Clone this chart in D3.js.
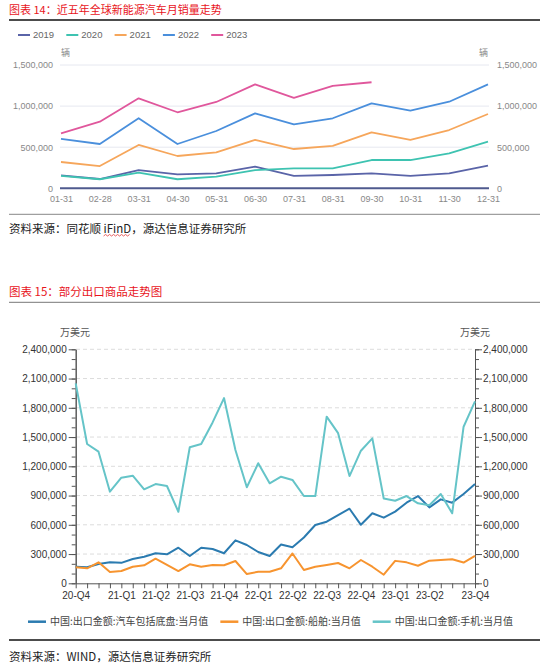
<!DOCTYPE html>
<html>
<head>
<meta charset="utf-8">
<script src="https://cdn.jsdelivr.net/npm/d3@7"></script>
<style>
  body { margin: 0; background: #fff; }
</style>
</head>
<body>
<div id="page"></div>
<script>
var svgWidth = 550;
var svgHeight = 666;
var cjkFont = "'Noto Sans CJK SC', 'Noto Sans', sans-serif";
var numFont = "'Liberation Sans', Arial, sans-serif";

// chart 14: monthly global NEV sales
var months14 = ["01-31", "02-28", "03-31", "04-30", "05-31", "06-30",
  "07-31", "08-31", "09-30", "10-31", "11-30", "12-31"];
var years14 = ["2019", "2020", "2021", "2022", "2023"];
var sales2019 = [158000, 113000, 222000, 170000, 182000, 263000, 150000, 162000, 182000, 150000, 182000, 275000];
var sales2020 = [150000, 110000, 190000, 110000, 141000, 222000, 243000, 243000, 344000, 344000, 426000, 567000];
var sales2021 = [320000, 271000, 527000, 393000, 438000, 588000, 478000, 515000, 681000, 588000, 709000, 904000];
var sales2022 = [600000, 539000, 852000, 539000, 697000, 912000, 778000, 852000, 1034000, 945000, 1053000, 1265000];
var sales2023 = [669000, 810000, 1095000, 925000, 1050000, 1265000, 1100000, 1245000, 1290000];
var ticks14 = [0, 500000, 1000000, 1500000];

// chart 15: selected export goods
var months15 = ["2020-11", "2020-12", "2021-01", "2021-02", "2021-03", "2021-04",
  "2021-05", "2021-06", "2021-07", "2021-08", "2021-09", "2021-10",
  "2021-11", "2021-12", "2022-01", "2022-02", "2022-03", "2022-04",
  "2022-05", "2022-06", "2022-07", "2022-08", "2022-09", "2022-10",
  "2022-11", "2022-12", "2023-01", "2023-02", "2023-03", "2023-04",
  "2023-05", "2023-06", "2023-07", "2023-08", "2023-09", "2023-10"];
var quarterTicks = ["2020-11", "2021-03", "2021-06", "2021-09", "2021-12", "2022-03",
  "2022-06", "2022-09", "2022-12", "2023-03", "2023-06", "2023-10"];
var quarterLabels = ["20-Q4", "21-Q1", "21-Q2", "21-Q3", "21-Q4", "22-Q1",
  "22-Q2", "22-Q3", "22-Q4", "23-Q1", "23-Q2", "23-Q4"];
var seriesNames15 = ["中国:出口金额:汽车包括底盘:当月值", "中国:出口金额:船舶:当月值", "中国:出口金额:手机:当月值"];
var carExports = [170000, 164000, 198000, 215000, 210000, 249000, 273000, 308000, 297000, 365000, 280000, 365000,
  352000, 308000, 441000, 393000, 321000, 280000, 398000, 369000, 470000, 598000, 632000, 700000,
  765000, 600000, 718000, 673000, 735000, 827000, 895000, 779000, 861000, 827000, 916000, 1018000];
var shipExports = [164000, 154000, 215000, 116000, 126000, 170000, 185000, 252000, 188000, 126000, 195000, 170000,
  188000, 185000, 229000, 95000, 119000, 119000, 154000, 306000, 136000, 170000, 188000, 208000,
  154000, 239000, 170000, 88000, 230000, 215000, 180000, 232000, 239000, 246000, 213000, 282000];
var phoneExports = [2050000, 1429000, 1350000, 940000, 1083000, 1104000, 964000, 1018000, 998000, 734000, 1395000, 1429000,
  1650000, 1900000, 1367000, 985000, 1231000, 1026000, 1093000, 1060000, 895000, 895000, 1709000, 1540000,
  1100000, 1360000, 1487000, 870000, 847000, 895000, 820000, 800000, 916000, 718000, 1606000, 1865000];
var ticks15 = [0, 300000, 600000, 900000, 1200000, 1500000, 1800000, 2100000, 2400000];
var minorTicks15 = d3.range(0, 2400001, 100000);

var svg = d3.select("#page")
  .append("svg")
  .attr("width", svgWidth)
  .attr("height", svgHeight);

function addText(x, y, str, size, color, family, anchor) {
  return svg.append("text")
    .attr("x", x)
    .attr("y", y)
    .attr("dy", "0.35em")
    .attr("font-size", size)
    .attr("fill", color)
    .attr("font-family", family)
    .attr("text-anchor", anchor || "start")
    .text(str);
}

function rule(y, color, w) {
  svg.append("line")
    .attr("x1", 9).attr("x2", 540)
    .attr("y1", y).attr("y2", y)
    .attr("stroke", color)
    .attr("stroke-width", w);
}

// ---------- chart 14 ----------
addText(9, 10, "图表 14：近五年全球新能源汽车月销量走势", 11, "#e8141c", cjkFont);
rule(20, "#111", 1.5);

var x14 = d3.scalePoint().domain(months14).range([61, 488]);
var y14 = d3.scaleLinear().domain([0, 1500000]).range([188.3, 65]);
var colors14 = ["#5a64a8", "#3ec3b1", "#f6a65b", "#4a8fdc", "#e0579c"];
var data14 = [sales2019, sales2020, sales2021, sales2022, sales2023];

// legend
years14.forEach(function (yr, i) {
  var lx = 18 + i * 48.3;
  svg.append("line")
    .attr("x1", lx).attr("x2", lx + 12)
    .attr("y1", 35).attr("y2", 35)
    .attr("stroke", colors14[i])
    .attr("stroke-width", 2);
  addText(lx + 15, 35, yr, 9.5, "#666", numFont);
});

addText(61, 52.5, "辆", 9, "#888", cjkFont);
addText(488, 52.5, "辆", 9, "#888", cjkFont, "end");

// grid
svg.append("g")
  .selectAll("line")
  .data(ticks14.slice(1))
  .enter()
  .append("line")
  .attr("x1", 60).attr("x2", 489)
  .attr("y1", (d) => y14(d)).attr("y2", (d) => y14(d))
  .attr("stroke", "#e6e8f0")
  .attr("stroke-width", 1);

var fmt = d3.format(",");

var left14 = svg.append("g")
  .attr("transform", "translate(60,0)")
  .call(d3.axisLeft(y14).tickValues(ticks14).tickFormat(fmt).tickSize(0).tickPadding(7));
var right14 = svg.append("g")
  .attr("transform", "translate(489,0)")
  .call(d3.axisRight(y14).tickValues(ticks14).tickFormat(fmt).tickSize(0).tickPadding(8));
[left14, right14].forEach(function (g) {
  g.select(".domain").remove();
  g.selectAll("text").attr("fill", "#888").attr("font-size", 9).attr("font-family", numFont);
});

var bottom14 = svg.append("g")
  .attr("transform", "translate(0,188.3)")
  .call(d3.axisBottom(x14).tickSize(0).tickPadding(7));
bottom14.select(".domain").remove();
bottom14.selectAll("text").attr("fill", "#888").attr("font-size", 9).attr("font-family", numFont);

svg.append("line")
  .attr("x1", 60).attr("x2", 489)
  .attr("y1", y14(0)).attr("y2", y14(0))
  .attr("stroke", "#4f5a8e")
  .attr("stroke-width", 2);

var line14 = d3.line()
  .x((d, i) => x14(months14[i]))
  .y((d) => y14(d));

data14.forEach(function (arr, i) {
  svg.append("path")
    .datum(arr)
    .attr("d", line14)
    .attr("fill", "none")
    .attr("stroke", colors14[i])
    .attr("stroke-width", 1.8)
    .attr("stroke-linejoin", "round");
});

rule(214.3, "#888", 1);
var src1 = addText(9, 228.5, "资料来源：同花顺 iFinD，源达信息证券研究所", 11.5, "#222", cjkFont);

// red wavy underline under iFinD, as in the source document
var wStart = src1.node().getStartPositionOfChar(9).x;
var wEnd = src1.node().getEndPositionOfChar(13).x;
var wave = d3.path();
wave.moveTo(wStart, 236);
var up = true;
for (var wx = wStart + 2; wx <= wEnd; wx += 2) {
  wave.lineTo(wx, up ? 234.5 : 236);
  up = !up;
}
svg.append("path")
  .attr("d", wave.toString())
  .attr("fill", "none")
  .attr("stroke", "#e23a3a")
  .attr("stroke-width", 0.8);

// ---------- chart 15 ----------
addText(9, 291.5, "图表 15：部分出口商品走势图", 11.5, "#e8141c", cjkFont);
rule(302.3, "#777", 1);

var x15 = d3.scalePoint().domain(months15).range([75.7, 475]);
var y15 = d3.scaleLinear().domain([0, 2400000]).range([583.3, 349.3]);
var colors15 = ["#2b7bb0", "#f7942f", "#65c4c8"];
var data15 = [carExports, shipExports, phoneExports];

addText(60, 332.5, "万美元", 10, "#555", cjkFont);
addText(490, 332.5, "万美元", 10, "#555", cjkFont, "end");

svg.append("g")
  .selectAll("line")
  .data(ticks15.slice(1))
  .enter()
  .append("line")
  .attr("x1", 76).attr("x2", 475)
  .attr("y1", (d) => y15(d)).attr("y2", (d) => y15(d))
  .attr("stroke", "#dcdcdc")
  .attr("stroke-dasharray", "4,3")
  .attr("stroke-width", 1);

function styleAxis(g) {
  g.selectAll("path, line").attr("stroke", "#555");
  g.selectAll("text").attr("fill", "#333").attr("font-size", 10).attr("font-family", numFont);
}

// minor ticks
styleAxis(svg.append("g")
  .attr("transform", "translate(75.7,0)")
  .call(d3.axisLeft(y15).tickValues(minorTicks15).tickFormat("").tickSize(4).tickSizeOuter(0)));
styleAxis(svg.append("g")
  .attr("transform", "translate(475,0)")
  .call(d3.axisRight(y15).tickValues(minorTicks15).tickFormat("").tickSize(4).tickSizeOuter(0)));

styleAxis(svg.append("g")
  .attr("transform", "translate(75.7,0)")
  .call(d3.axisLeft(y15).tickValues(ticks15).tickFormat(fmt).tickSize(7).tickSizeOuter(0).tickPadding(2)));
styleAxis(svg.append("g")
  .attr("transform", "translate(475,0)")
  .call(d3.axisRight(y15).tickValues(ticks15).tickFormat(fmt).tickSize(7).tickSizeOuter(0).tickPadding(1)));

styleAxis(svg.append("g")
  .attr("transform", "translate(0,583.3)")
  .call(d3.axisBottom(x15)
    .tickSize(5)
    .tickSizeOuter(0)
    .tickPadding(4)
    .tickFormat(function (d) {
      var k = quarterTicks.indexOf(d);
      return k >= 0 ? quarterLabels[k] : "";
    })));

var line15 = d3.line()
  .x((d, i) => x15(months15[i]))
  .y((d) => y15(d));

data15.forEach(function (arr, i) {
  svg.append("path")
    .datum(arr)
    .attr("d", line15)
    .attr("fill", "none")
    .attr("stroke", colors15[i])
    .attr("stroke-width", 2)
    .attr("stroke-linejoin", "round");
});

// legend, laid out left to right
var legX = 28;
seriesNames15.forEach(function (name, i) {
  svg.append("line")
    .attr("x1", legX).attr("x2", legX + 18)
    .attr("y1", 621.7).attr("y2", 621.7)
    .attr("stroke", colors15[i])
    .attr("stroke-width", 2.5);
  var t = addText(legX + 22, 621.7, name, 10, "#444", cjkFont);
  legX += 22 + t.node().getComputedTextLength() + 12;
});

rule(640, "#111", 1.5);
addText(9, 656.5, "资料来源：WIND，源达信息证券研究所", 11.5, "#222", cjkFont);
</script>
</body>
</html>
